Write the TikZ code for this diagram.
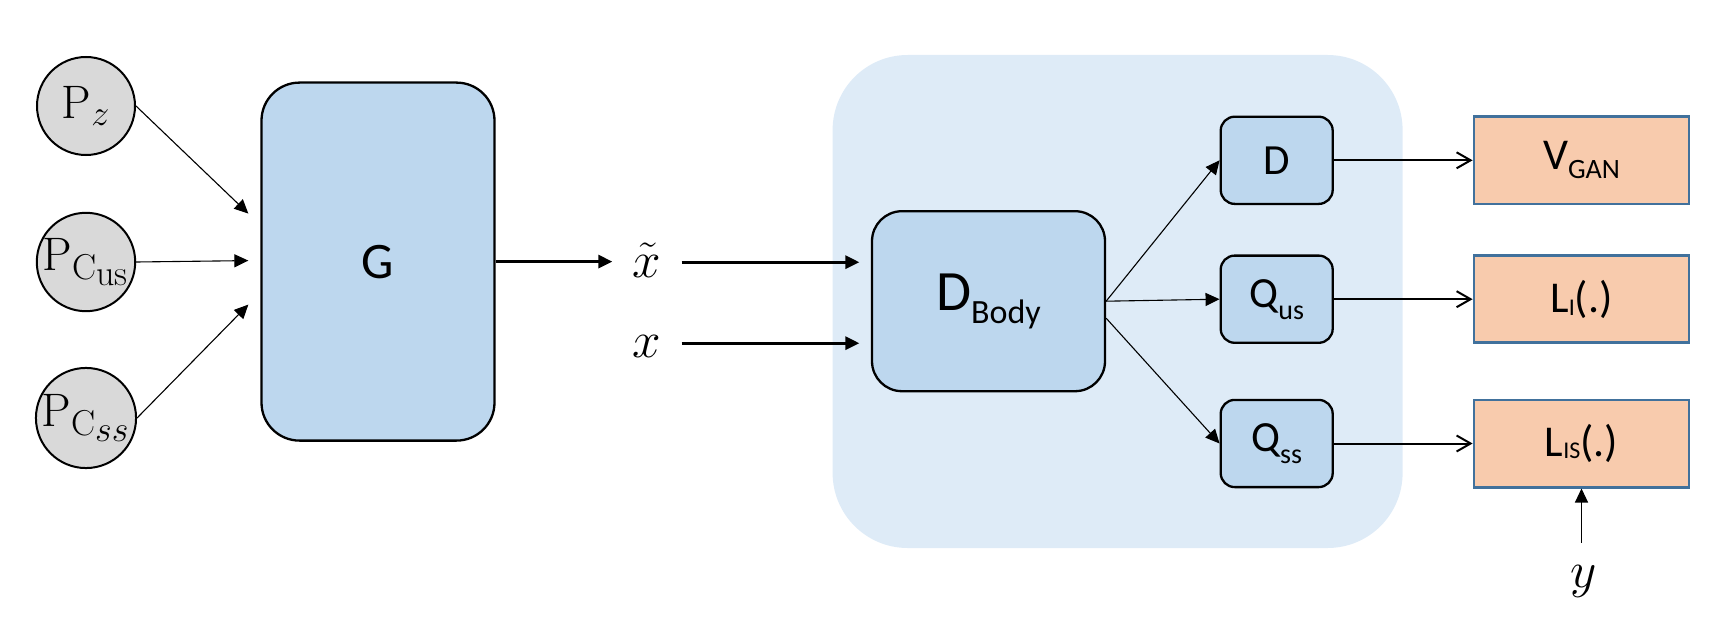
\RequirePackage{fix-cm}
\documentclass[tikz,border=0pt]{standalone}
\usepackage{fontspec}
\newfontfamily\cali{Carlito}
\usetikzlibrary{arrows.meta,calc}
\definecolor{bgblue}{HTML}{DEEBF7}
\definecolor{boxblue}{HTML}{BDD7EE}
\definecolor{circgrey}{HTML}{D9D9D9}
\definecolor{peach}{HTML}{F8CBAD}
\definecolor{peachedge}{HTML}{41719C}
\DeclareMathSizes{23.5}{23.5}{18}{18}
\tikzset{
  circ/.style={circle, draw, fill=circgrey, line width=1pt, minimum size=49pt, inner sep=0pt, font=\fontsize{23.5}{28}\selectfont},
  bluebox/.style={draw, fill=boxblue, line width=1.15pt, inner sep=0pt},
  bigbox/.style={bluebox, minimum width=116.5pt, rounded corners=16pt},
  smallbox/.style={bluebox, minimum width=56pt, minimum height=43.6pt, rounded corners=7pt, font=\cali\fontsize{21.5}{26}\selectfont},
  outbox/.style={draw=peachedge, fill=peach, line width=1.4pt, minimum width=107.5pt, minimum height=43.6pt, inner sep=0pt, font=\cali\fontsize{22}{26}\selectfont},
  mathlbl/.style={font=\fontsize{25.6}{30}\selectfont, inner ysep=0pt, inner xsep=10pt},
  thinarrow/.style={-{Triangle[length=7pt,width=6.5pt]}, line width=0.55pt},
  thickarrow/.style={-{Triangle[length=7pt,width=6.5pt]}, line width=1.5pt},
  openarrow/.style={-{Straight Barb[length=7pt,width=8pt]}, line width=1pt},
}
\begin{document}
\begin{tikzpicture}[x=0.5pt,y=-0.5pt]
\useasboundingbox (0,0) rectangle (1730,631);
% background container
\node[fill=bgblue, rounded corners=37.5pt, minimum width=285pt, minimum height=246.5pt, inner sep=0pt] (bg) at (1117.6,301.5) {};
% priors
\node[circ] (pz) at (86,106) {$\mathrm{P}_{z}$};
\node[circ] (pcus) at (86,262) {$\mathrm{P}_{\mathrm{C}_{\mathrm{us}}}$};
\node[circ] (pcss) at (86,418) {$\mathrm{P}_{\mathrm{C}_{ss}}$};
% generator
\node[bigbox, minimum height=179pt, rounded corners=19pt, font=\cali\fontsize{25.6}{30}\selectfont] (G) at (378,261.6) {G};
\coordinate (gin1) at ($(G.west)+(-12,-48)$);
\coordinate (gin2) at ($(G.west)+(-12,-1)$);
\coordinate (gin3) at ($(G.west)+(-12,43)$);
\draw[thinarrow] (pz.east) -- (gin1);
\draw[thinarrow] (pcus.east) -- (gin2);
\draw[thinarrow] (pcss.east) -- (gin3);
% samples
\node[mathlbl, anchor=base] (xt) at (647,277) {$\tilde{x}$};
\node[mathlbl, anchor=base] (xr) at (647,357) {$x$};
\draw[thickarrow] (G.east) -- (G.east -| xt.west);
% discriminator body
\node[bigbox, minimum height=90pt, rounded corners=15pt, font=\cali\fontsize{28.5}{32}\selectfont] (DB) at (988.5,301.2) {D\raisebox{-6.5pt}{\fontsize{17}{20}\selectfont Body}};
\coordinate (dbin1) at ($(DB.west)+(-11.5,-39)$);
\coordinate (dbin2) at ($(DB.west)+(-11.5,42)$);
\draw[thickarrow] (xt.east |- dbin1) -- (dbin1);
\draw[thickarrow] (xr.east |- dbin2) -- (dbin2);
% heads
\node[smallbox] (D) at (1276.7,160.3) {D};
\node[smallbox] (Qus) at (1276.7,299.2) {Q\raisebox{-6pt}{\fontsize{14}{16}\selectfont us}};
\node[smallbox] (Qss) at (1276.7,443.5) {Q\raisebox{-6pt}{\fontsize{14}{16}\selectfont ss}};
\coordinate (dbout3) at ($(DB.east)+(0,17)$);
\draw[thinarrow] (DB.east) -- (D.west);
\draw[thinarrow] (DB.east) -- (Qus.west);
\draw[thinarrow] (dbout3) -- (Qss.west);
% losses
\node[outbox] (V) at (1581.5,160.3) {V\raisebox{-4.5pt}{\fontsize{14}{16}\selectfont GAN}};
\node[outbox] (LI) at (1581.5,299.2) {L\raisebox{-1.5pt}{\fontsize{12}{14}\selectfont I}(.)};
\node[outbox] (LIS) at (1581.5,443.5) {L\raisebox{-1pt}{\fontsize{12}{14}\selectfont IS}(.)};
\draw[openarrow] (D.east) -- (V.west);
\draw[openarrow] (Qus.east) -- (LI.west);
\draw[openarrow] (Qss.east) -- (LIS.west);
% label y
\node[font=\fontsize{25.6}{30}\selectfont, inner sep=11pt] (ylbl) at (1584,581) {$y$};
\draw[thinarrow] (LIS.south |- ylbl.north) -- (LIS.south);
\end{tikzpicture}
\end{document}
